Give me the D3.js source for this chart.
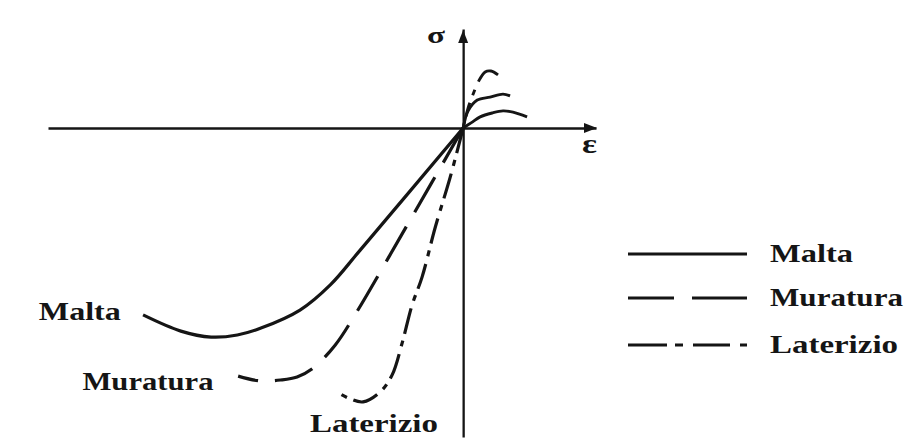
<!DOCTYPE html>
<html>
<head>
<meta charset="utf-8">
<script src="https://cdn.jsdelivr.net/npm/d3@7"></script>
<style>
  html, body { margin: 0; padding: 0; background: #fff; }
  svg { display: block; }
  text { font-family: "Liberation Serif", "DejaVu Serif", serif; font-weight: bold; fill: #151515; }
</style>
</head>
<body>
<svg id="chart" width="914" height="447"></svg>
<script>
// ---- Data (strain ε, stress σ in arbitrary units) ----
const materials = ["Malta", "Muratura", "Laterizio"];

const maltaCompression = [[0,0],[-24.8,-40.7],[-32,-52.3],[-39.3,-60.7],[-48.7,-66.7],[-54.4,-69],[-60.7,-69.7],[-68,-67.7],[-77.1,-62.3]];
const maltaTension = [[0,0],[2,1.8],[4.1,3.7],[7,5],[9.6,5.7],[12,5.3],[15.4,3.7]];

const muraturaCompression = [[0,0],[-13.2,-31.7],[-26.5,-63.3],[-30.8,-72.3],[-36.1,-80],[-40,-83],[-44,-84],[-49,-84.3],[-54.2,-82.7]];
const muraturaTension = [[0,0],[1.2,5.7],[3.4,9.3],[6.5,10.3],[9.6,11.3],[11.3,10.7]];

const laterizioCompression = [[0,0],[-3.1,-16.3],[-6.7,-33],[-9.9,-49.7],[-12.3,-59],[-14.7,-71.7],[-17.1,-82.3],[-20,-88],[-24.1,-91.3],[-27.2,-90.3],[-30.4,-88]];
const laterizioTension = [[0,0],[1.2,6.7],[2.6,12],[3.6,15.3],[5.3,18.7],[6.7,19],[8.4,17.7]];

const curveLabels = [
  {name: "Malta", eps: -102.2, sig: -64},
  {name: "Muratura", eps: -91.7, sig: -87.3},
  {name: "Laterizio", eps: -36.9, sig: -101.3}
];

const axisLabels = { y: "σ", x: "ε" };

// ---- Styles ----
const styles = {
  Malta:     { dash: null,          tensionDash: null,        legendDash: null },
  Muratura:  { dash: "40,17",       tensionDash: "7,5,70",    legendDash: "46,18,56" },
  Laterizio: { dash: "26,7,6,8",    tensionDash: "26,8,6,9",  legendDash: "39,8,8,10,37,10,7" }
};
const labelWidths = { Malta: 82, Muratura: 131, Laterizio: 128 };
const legendWidths = { Malta: 83, Muratura: 133, Laterizio: 128 };

const svg = d3.select("#chart");
const ink = "#151515";

const x = d3.scaleLinear().domain([-100, 32]).range([48, 596]);
const y = d3.scaleLinear().domain([-103, 33]).range([437, 29]);

// ---- Axes ----
const gx = svg.append("g").attr("transform", `translate(0,${y(0)})`)
  .call(d3.axisBottom(x).tickValues([]).tickSizeOuter(0));
const gy = svg.append("g").attr("transform", `translate(${x(0)},0)`)
  .call(d3.axisLeft(y).tickValues([]).tickSizeOuter(0));
[gx, gy].forEach(g => g.select(".domain").attr("stroke", ink).attr("stroke-width", 2.3));

// arrowheads
const tipX = x(32) + 1, y0 = y(0);
svg.append("path")
  .attr("d", `M${tipX},${y0} L${tipX - 13},${y0 - 5} L${tipX - 13},${y0 + 5} Z`)
  .attr("fill", ink);
const tipY = y(33) + 1, x0 = x(0);
svg.append("path")
  .attr("d", `M${x0},${tipY} L${x0 - 5},${tipY + 13} L${x0 + 5},${tipY + 13} Z`)
  .attr("fill", ink);

svg.append("text").attr("x", 427).attr("y", 43).attr("font-size", 24)
  .attr("textLength", 18).attr("lengthAdjust", "spacingAndGlyphs").text(axisLabels.y);
svg.append("text").attr("x", 582).attr("y", 153).attr("font-size", 27)
  .attr("textLength", 15).attr("lengthAdjust", "spacingAndGlyphs").text(axisLabels.x);

// ---- Curves ----
const line = d3.line().x(d => x(d[0])).y(d => y(d[1])).curve(d3.curveCatmullRom.alpha(0.5));

const series = [
  {name: "Malta", comp: maltaCompression, tens: maltaTension},
  {name: "Muratura", comp: muraturaCompression, tens: muraturaTension},
  {name: "Laterizio", comp: laterizioCompression, tens: laterizioTension}
];

series.forEach(s => {
  const st = styles[s.name];
  svg.append("path").attr("d", line(s.comp))
    .attr("fill", "none").attr("stroke", ink).attr("stroke-width", 3.2)
    .attr("stroke-dasharray", st.dash);
  svg.append("path").attr("d", line(s.tens))
    .attr("fill", "none").attr("stroke", ink).attr("stroke-width", 2.9)
    .attr("stroke-dasharray", st.tensionDash);
});

// curve labels
svg.selectAll("text.curve-label").data(curveLabels).enter().append("text")
  .attr("class", "curve-label")
  .attr("x", d => x(d.eps)).attr("y", d => y(d.sig))
  .attr("font-size", 25)
  .attr("textLength", d => labelWidths[d.name]).attr("lengthAdjust", "spacingAndGlyphs")
  .text(d => d.name);

// ---- Legend ----
const legend = svg.append("g").attr("transform", "translate(628,254)");
const lg = legend.selectAll("g").data(materials).enter().append("g")
  .attr("transform", (d, i) => `translate(0,${[0, 44, 91][i]})`);
lg.append("line").attr("x1", 0).attr("x2", 119).attr("y1", 0).attr("y2", 0)
  .attr("stroke", ink).attr("stroke-width", 3)
  .attr("stroke-dasharray", d => styles[d].legendDash);
lg.append("text").attr("x", 142).attr("y", 8).attr("font-size", 25)
  .attr("textLength", d => legendWidths[d]).attr("lengthAdjust", "spacingAndGlyphs")
  .text(d => d);
</script>
</body>
</html>
